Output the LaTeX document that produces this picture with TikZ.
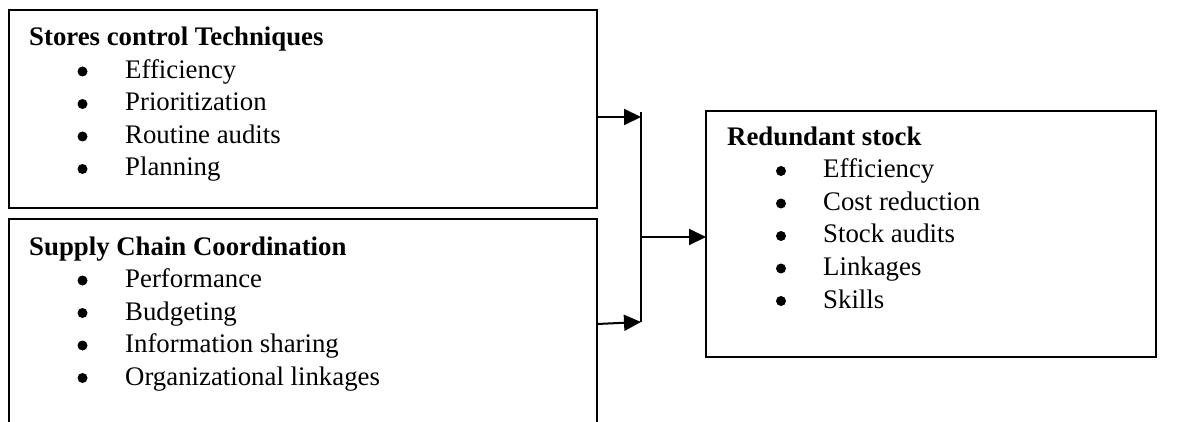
\documentclass[tikz,border=0pt]{standalone}
\usepackage{fontspec}
\setmainfont{Liberation Serif}
\usetikzlibrary{arrows.meta}
\begin{document}
\begin{tikzpicture}[x=1pt,y=-1pt,
  boxnode/.style={draw=black,line width=1.5pt,inner sep=0pt},
  plainbox/.style={inner sep=0pt},
  boxline/.style={draw=black,line width=1.5pt},
  conn/.style={line width=2pt},
  arr/.style={line width=2pt,-{Triangle[length=17pt,width=16pt]}},
  title/.style={anchor=base west,inner sep=0pt,font=\fontsize{26.8}{32.5}\selectfont\bfseries},
  item/.style={anchor=base west,inner sep=0pt,font=\fontsize{26.8}{32.5}\selectfont},
  bul/.style={fill=black}]
\useasboundingbox (0,0) rectangle (1178,422);

% boxes
\node[boxnode,minimum width=588pt,minimum height=198pt] (sct) at (303,109) {};
\node[plainbox,minimum width=588pt,minimum height=203pt] (scc) at (303,320.5) {};
\draw[boxline] (scc.south west) -- (scc.north west) -- (scc.north east) -- (scc.south east);
\node[boxnode,minimum width=450pt,minimum height=246pt] (rs) at (931,234) {};

% box 1 text
\node[title] (t1) at (29,46) {Stores control Techniques};
\foreach \y/\txt [count=\i] in {78.5/Efficiency,111/Prioritization,143.5/Routine audits,176/Planning}{
  \fill[bul] (82.5,\y-7) circle (5);
  \node[item] (a\i) at (125,\y) {\txt};
}

% box 2 text
\node[title] (t2) at (29,255) {Supply Chain Coordination};
\foreach \y/\txt [count=\i] in {287.5/Performance,320/Budgeting,352.5/Information sharing,385/Organizational linkages}{
  \fill[bul] (82.5,\y-7) circle (5);
  \node[item] (b\i) at (125,\y) {\txt};
}

% right box text
\node[title] (t3) at (727,145.5) {Redundant stock};
\foreach \y/\txt [count=\i] in {178/Efficiency,210.5/Cost reduction,243/Stock audits,275.5/Linkages,308/Skills}{
  \fill[bul] (781,\y-7) circle (5);
  \node[item] (c\i) at (823,\y) {\txt};
}

% connectors
\coordinate (jt) at (641,112);
\coordinate (jb) at (641,322);
\coordinate (s1) at (597,117);
\coordinate (e1) at (641,117);
\coordinate (s2) at (597,324);
\coordinate (jm) at (641,237);
\coordinate (em) at (706,237);
\draw[conn] (jt) -- (jb);
\draw[arr] (s1) -- (e1);
\draw[arr] (s2) -- (jb);
\draw[arr] (jm) -- (em);
\end{tikzpicture}
\end{document}
